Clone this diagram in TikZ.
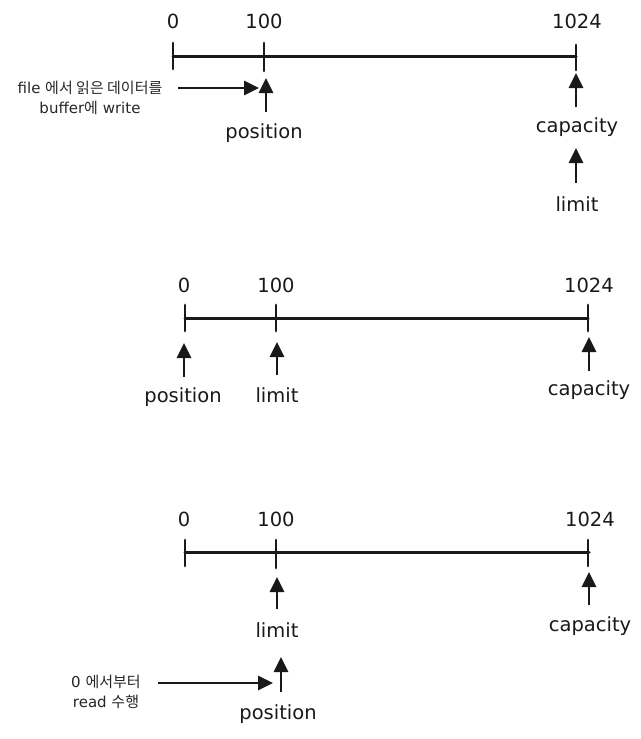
\documentclass[tikz,border=0pt]{standalone}
\usepackage{fontspec}
\setmainfont{DejaVu Sans}
\newfontfamily\cjk{Noto Sans CJK KR}
\usetikzlibrary{arrows.meta}
\tikzset{
  x=1pt, y=-1pt,
  axis/.style={line width=3pt, line cap=round, draw=black!90},
  tickln/.style={line width=2.8pt, line cap=round, draw=black!90},
  ptr/.style={line width=2.8pt, draw=black!90, -{Triangle[length=15pt,width=14pt]}},
  lbl/.style={font=\fontsize{19.5}{20}\selectfont, inner sep=0pt, text=black!90},
  note/.style={font=\fontsize{15}{20}\selectfont, inner sep=0pt, align=center, text=black!85},
}
\begin{document}
\begin{tikzpicture}
\useasboundingbox (0,0) rectangle (640,739);
% ---------- diagram 1 ----------
\coordinate (a0) at (173,56); \coordinate (a1) at (264,56); \coordinate (a2) at (576,56);
\draw[axis] (a0) -- (a2);
\draw[tickln] (173,43) -- (173,69);
\draw[tickln] (264,43) -- (264,71);
\draw[tickln] (576,45) -- (576,70);
\node[lbl] (a0l) at (173,21) {0};
\node[lbl] (a1l) at (264,21) {100};
\node[lbl] (a2l) at (577,21) {1024};
\node[lbl] (apos) at (264,133) {position};
\coordinate (aposT) at (266,112); \coordinate (aposH) at (266,78);
\draw[ptr] (aposT) -- (aposH);
\node[lbl] (acap) at (577,127) {capacity};
\coordinate (acapT) at (576,107); \coordinate (acapH) at (576,73);
\draw[ptr] (acapT) -- (acapH);
\node[lbl] (alim) at (577,204) {limit};
\coordinate (alimT) at (576,183); \coordinate (alimH) at (576,148);
\draw[ptr] (alimT) -- (alimH);
\node[note] (anote) at (90,98) {file {\cjk 에서 읽은 데이터를}\\buffer{\cjk 에} write};
\coordinate (awT) at (178,88); \coordinate (awH) at (259,88);
\draw[ptr] (awT) -- (awH);
% ---------- diagram 2 ----------
\coordinate (b0) at (185,318); \coordinate (b1) at (276,318); \coordinate (b2) at (588,318);
\draw[axis] (b0) -- (b2);
\draw[tickln] (185,305) -- (185,331);
\draw[tickln] (276,305) -- (276,331);
\draw[tickln] (588,305) -- (588,331);
\node[lbl] (b0l) at (184,285) {0};
\node[lbl] (b1l) at (276,285) {100};
\node[lbl] (b2l) at (589,285) {1024};
\node[lbl] (bpos) at (183,397) {position};
\coordinate (bposT) at (184,377); \coordinate (bposH) at (184,343);
\draw[ptr] (bposT) -- (bposH);
\node[lbl] (blim) at (277,395) {limit};
\coordinate (blimT) at (277,375); \coordinate (blimH) at (277,342);
\draw[ptr] (blimT) -- (blimH);
\node[lbl] (bcap) at (589,390) {capacity};
\coordinate (bcapT) at (589,371); \coordinate (bcapH) at (589,337);
\draw[ptr] (bcapT) -- (bcapH);
% ---------- diagram 3 ----------
\coordinate (c0) at (185,552); \coordinate (c1) at (276,552); \coordinate (c2) at (589,552);
\draw[axis] (c0) -- (c2);
\draw[tickln] (185,540) -- (185,566);
\draw[tickln] (276,540) -- (276,568);
\draw[tickln] (588,540) -- (588,566);
\node[lbl] (c0l) at (184,519) {0};
\node[lbl] (c1l) at (276,519) {100};
\node[lbl] (c2l) at (590,519) {1024};
\node[lbl] (clim) at (277,630) {limit};
\coordinate (climT) at (277,609); \coordinate (climH) at (277,577);
\draw[ptr] (climT) -- (climH);
\node[lbl] (ccap) at (590,626) {capacity};
\coordinate (ccapT) at (589,605); \coordinate (ccapH) at (589,572);
\draw[ptr] (ccapT) -- (ccapH);
\node[lbl] (cpos) at (278,714) {position};
\coordinate (cposT) at (281,692); \coordinate (cposH) at (281,657);
\draw[ptr] (cposT) -- (cposH);
\node[note] (cnote) at (106,692) {0 {\cjk 에서부터}\\read {\cjk 수행}};
\coordinate (crT) at (158,683); \coordinate (crH) at (273,683);
\draw[ptr] (crT) -- (crH);
\end{tikzpicture}
\end{document}
